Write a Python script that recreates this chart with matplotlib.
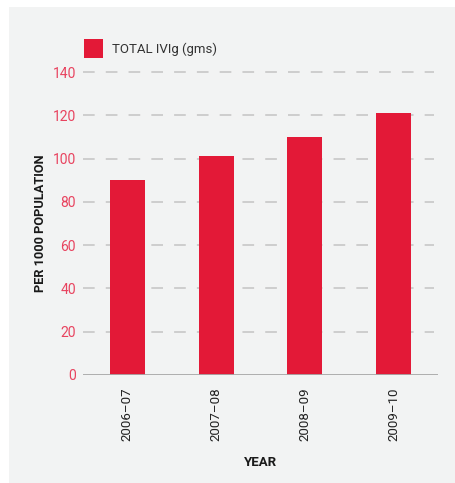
import matplotlib
matplotlib.use("Agg")
import matplotlib.pyplot as plt
from matplotlib.patches import Rectangle

# Data
years = ["2006\u201307", "2007\u201308", "2008\u201309", "2009\u201310"]
total_ivig = [90, 101, 110, 121]
y_ticks = [0, 20, 40, 60, 80, 100, 120, 140]
series_name = "TOTAL IVIg (gms)"

BAR = "#e31937"
TICK_RED = "#e8435f"
PANEL = "#f2f3f3"
GRID = "#c4c4c4"

plt.rcParams["font.family"] = ["Roboto", "DejaVu Sans"]
plt.rcParams["lines.scale_dashes"] = False

W, H = 456, 483
fig = plt.figure(figsize=(W / 100, H / 100), dpi=100)
fig.patch.set_facecolor("white")

# light background panel
fig.patches.append(Rectangle((9 / W, 0), 1 - 9 / W, 1 - 7 / H,
                             transform=fig.transFigure, facecolor=PANEL,
                             edgecolor="none", zorder=-10))

ax = fig.add_axes([83 / W, (H - 375) / H, (438 - 83) / W, (375 - 72) / H])
ax.set_zorder(5)
ax.set_facecolor("none")

x = list(range(len(years)))
ax.bar(x, total_ivig, width=0.395, color=BAR, zorder=3)

ax.set_xlim(-0.5, 3.5)
ax.set_ylim(0, 140)

# dashed horizontal gridlines (solid baseline at zero)
for v in y_ticks[1:]:
    ax.plot([-0.5, 3.46], [v, v], color=GRID, lw=1.1,
            dashes=(8.4, 8.0), zorder=1, clip_on=False)
ax.axhline(0, xmin=0, xmax=1, color="#a8a8a8", lw=1.3, zorder=4)

for s in ax.spines.values():
    s.set_visible(False)

ax.set_yticks(y_ticks)
ax.set_yticklabels([str(v) for v in y_ticks])
ax.tick_params(axis="y", length=0, pad=5, labelsize=10, labelcolor=TICK_RED)
ax.set_xticks(x)
ax.set_xticklabels(years, rotation=90, va="top")
ax.tick_params(axis="x", length=0, pad=9, labelsize=9.5, labelcolor="#222222")

ax.set_xlabel("YEAR", fontsize=9.5, fontweight="bold", color="#1a1a1a", labelpad=11)
ax.set_ylabel("PER 1000 POPULATION", fontsize=9.2, fontweight="bold",
              color="#1a1a1a", labelpad=4)

# legend
fig.patches.append(Rectangle((84 / W, 1 - 58 / H), 19 / W, 19 / H,
                             transform=fig.transFigure, facecolor=BAR,
                             edgecolor="none", zorder=2))
fig.text(112 / W, 1 - 49 / H, series_name, fontsize=9.5, color="#333333",
         va="center", ha="left")

fig.savefig("out.png", dpi=100)
